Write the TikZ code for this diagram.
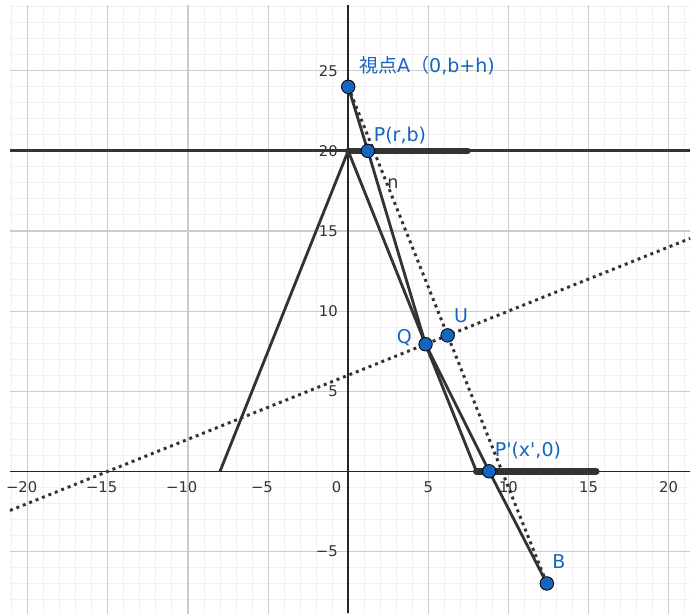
\documentclass[tikz,border=0pt]{standalone}
\usepackage{fontspec}
\setmainfont{DejaVu Sans}
\newfontfamily\cjk{Noto Sans CJK JP}
\definecolor{ggblue}{HTML}{1565C0}
\definecolor{ink}{HTML}{333333}
\definecolor{axisink}{HTML}{252525}
\definecolor{gminor}{HTML}{F0F0F0}
\definecolor{gmajor}{HTML}{CCCCCC}
\tikzset{
  gridminor/.style={draw=gminor,line width=0.7pt},
  gridmajor/.style={draw=gmajor,line width=0.8pt},
  axisline/.style={draw=axisink,line width=1.1pt},
  solidline/.style={draw=ink,line width=2pt},
  baseline20/.style={draw=ink,line width=2.2pt},
  thickseg/.style={draw=ink,line width=4.8pt,line cap=round},
  dotline/.style={draw=ink,line width=2.1pt,dash pattern=on 2.1pt off 2.8pt},
  pt/.style={circle,fill=ggblue,draw=black,line width=0.6pt,minimum size=9.6pt,inner sep=0pt},
  lab/.style={text=ggblue,font=\fontsize{13.5pt}{15pt}\selectfont,inner sep=0pt},
  linelab/.style={text=ink,font=\fontsize{12.5pt}{14pt}\selectfont,inner sep=0pt},
  xlab/.style={text=ink,font=\fontsize{10.5pt}{12pt}\selectfont,inner sep=0pt},
  ylab/.style={text=ink,font=\fontsize{10.5pt}{12pt}\selectfont,inner sep=0pt,anchor=east}
}
\begin{document}
\begin{tikzpicture}[x=0.4cm,y=0.4cm]
\useasboundingbox (-21.735,-8.845) rectangle (21.835,29.42);
% grid
\begin{scope}
  \clip (-21.11,-8.845) rectangle (21.34,29.1);
  \draw[gridminor,step=1] (-22,-9) grid (22,30);
  \draw[gridmajor,step=5] (-25,-10) grid (25,30);
\end{scope}
% axes
\coordinate (X1) at (-21.11,0);
\coordinate (X2) at (21.34,0);
\coordinate (Y1) at (0,-8.845);
\coordinate (Y2) at (0,29.1);
\draw[axisline] (X1) -- (X2);
\draw[axisline] (Y1) -- (Y2);
% axis labels
\foreach \v in {5,10,15,20} {
  \node[xlab] (xl\v) at (\v,-0.98) {\v};
  \node[xlab] (xm\v) at (-\v,-0.98) {\llap{−}\v};
}
\node[xlab] (xl0) at (-0.72,-0.98) {0};
\foreach \v in {5,10,15,20,25} {
  \node[ylab] (yl\v) at (-0.64,\v) {\v};
}
\node[ylab] (ym5) at (-0.64,-5) {−5};
% horizontal line y=20
\coordinate (H1) at (-21.11,20);
\coordinate (H2) at (21.34,20);
\draw[baseline20] (H1) -- (H2);
% thick segments
\coordinate (S1) at (0,20);
\coordinate (S2) at (7.45,20);
\coordinate (S3) at (8,0);
\coordinate (S4) at (15.48,0);
\draw[thickseg] (S1) -- (S2);
\draw[thickseg] (S3) -- (S4);
% triangle
\coordinate (T1) at (-8,0);
\coordinate (T0) at (0,20);
\coordinate (T2) at (8,0);
\draw[solidline,line join=round] (T1) -- (T0) -- (T2);
% points
\coordinate (A) at (0,24);
\coordinate (P) at (1.23,20);
\coordinate (Q) at (4.828,7.931);
\coordinate (U) at (6.207,8.483);
\coordinate (P2) at (8.8,0);
\coordinate (B) at (12.4,-7);
% ray
\draw[solidline,line join=round] (A) -- (P) -- (Q) -- (P2) -- (B);
% dotted lines
\draw[dotline] (A) -- (B);
\coordinate (L1) at (-21.11,-2.444);
\coordinate (L2) at (21.34,14.536);
\draw[dotline] (L1) -- (L2);
% point markers
\node[pt] (pA) at (A) {};
\node[pt] (pP) at (P) {};
\node[pt] (pQ) at (Q) {};
\node[pt] (pU) at (U) {};
\node[pt] (pP2) at (P2) {};
\node[pt] (pB) at (B) {};
% labels
\node[lab] (lA) at (4.92,25.30) {{\cjk 視点}A{\cjk （}0,b+h)};
\node[lab] (lP) at (3.23,20.99) {P(r,b)};
\node[linelab] (ln) at (2.80,17.93) {n};
\node[lab] (lQ) at (3.51,8.32) {Q};
\node[lab] (lU) at (7.04,9.71) {U};
\node[lab] (lP2) at (11.22,1.27) {P\textquotesingle(x\textquotesingle,0)};
\node[lab] (lB) at (13.15,-5.66) {B};
\end{tikzpicture}
\end{document}
